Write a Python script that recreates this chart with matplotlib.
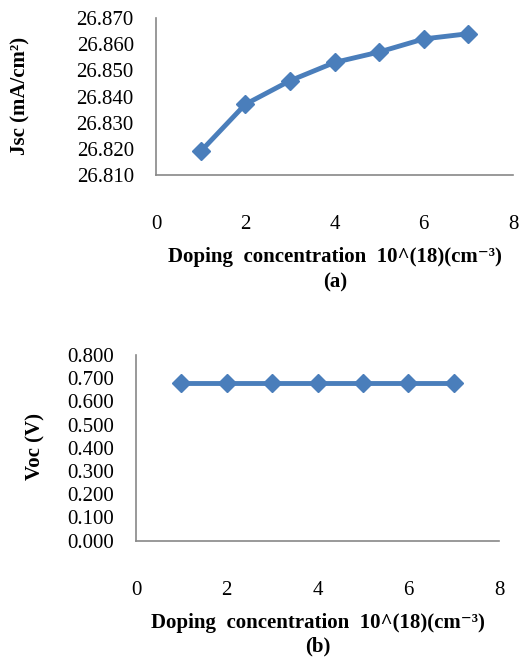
import matplotlib
matplotlib.use("Agg")
import matplotlib.pyplot as plt
from matplotlib.ticker import FormatStrFormatter

plt.rcParams['font.family'] = ['Liberation Serif', 'DejaVu Serif']

doping = [1, 2, 3, 4, 5, 6, 7]
jsc = [26.819, 26.837, 26.846, 26.853, 26.857, 26.862, 26.864]
voc = [0.680, 0.680, 0.680, 0.680, 0.680, 0.680, 0.680]
x_ticks = [0, 2, 4, 6, 8]
jsc_ticks = [26.810, 26.820, 26.830, 26.840, 26.850, 26.860, 26.870]
voc_ticks = [0.0, 0.1, 0.2, 0.3, 0.4, 0.5, 0.6, 0.7, 0.8]

W, H = 521, 657
fig = plt.figure(figsize=(W / 100, H / 100), dpi=100)

color = '#4A7EBB'
spine_c = '#888888'

def style(ax):
    for s in ['top', 'right']:
        ax.spines[s].set_visible(False)
    for s in ['left', 'bottom']:
        ax.spines[s].set_color(spine_c)
        ax.spines[s].set_linewidth(1.2)
    ax.tick_params(axis='both', length=0, labelsize=15)
    ax.tick_params(axis='x', pad=29)
    ax.tick_params(axis='y', pad=16)
    ax.set_xlim(0, 8)
    ax.set_xticks(x_ticks)

# top
ax1 = fig.add_axes([156 / W, 1 - 175 / H, (513 - 156) / W, (175 - 18) / H])
ax1.plot(doping, jsc, color=color, lw=3.5, marker='D', ms=9, solid_joinstyle='round')
ax1.set_ylim(26.810, 26.870)
ax1.set_yticks(jsc_ticks)
ax1.yaxis.set_major_formatter(FormatStrFormatter('%.3f'))
style(ax1)

# bottom
ax2 = fig.add_axes([136 / W, 1 - 540.7 / H, (499 - 136) / W, (540.7 - 355) / H])
ax2.plot(doping, voc, color=color, lw=3.5, marker='D', ms=9)
ax2.set_ylim(0, 0.8)
ax2.set_yticks(voc_ticks)
ax2.yaxis.set_major_formatter(FormatStrFormatter('%.3f'))
style(ax2)

fs = 15
lab = 'Doping  concentration  10^(18)(cm⁻³)'
fig.text(335 / W, 1 - 257 / H, lab, ha='center', va='center', fontsize=fs, fontweight='bold')
fig.text(335 / W, 1 - 282 / H, '(a)', ha='center', va='center', fontsize=fs, fontweight='bold')
fig.text(318 / W, 1 - 622.7 / H, lab, ha='center', va='center', fontsize=fs, fontweight='bold')
fig.text(318 / W, 1 - 646.7 / H, '(b)', ha='center', va='center', fontsize=fs, fontweight='bold')

fig.text(20 / W, 1 - 96 / H, 'Jsc (mA/cm²)', rotation=90, ha='center', va='center', fontsize=fs, fontweight='bold')
fig.text(35 / W, 1 - 447 / H, 'Voc (V)', rotation=90, ha='center', va='center', fontsize=fs, fontweight='bold')

fig.savefig('out.png', dpi=100)
